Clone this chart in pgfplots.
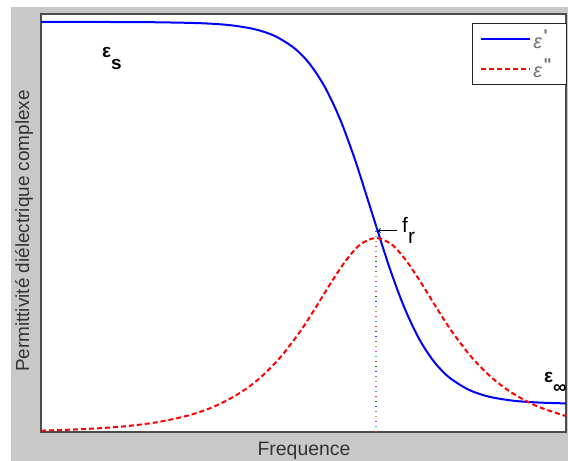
\documentclass[border=0pt]{standalone}
\usepackage{pgfplots}
\pgfplotsset{compat=1.18}
\usepackage{fontspec}
\setmainfont{Liberation Sans}
\newfontfamily\lsans{Liberation Sans}
\definecolor{figgray}{RGB}{200,200,200}
\definecolor{mblue}{RGB}{0,0,255}
\definecolor{mred}{RGB}{255,0,0}
\newcommand{\legsup}[1]{\raisebox{7bp}{\fontsize{17}{17}\selectfont\bfseries\kern1.5bp #1}}
\begin{document}
\begin{tikzpicture}[x=1bp,y=1bp]
\useasboundingbox (0,0) rectangle (568,461);
\fill[figgray] (11,0) rectangle (568,454);
\begin{axis}[
  at={(41bp,29bp)}, anchor=south west,
  width=525bp, height=418bp, scale only axis,
  xmin=41, xmax=566, ymin=0, ymax=418,
  axis background/.style={fill=white},
  axis line style={black!70, line width=1.5bp},
  xtick=\empty, ytick=\empty,
  legend style={at={(axis cs:567,409)}, anchor=north east, draw=black!85,
    line width=0.9bp, fill=white, inner xsep=8bp, inner ysep=4bp,
    row sep=5bp, font=\lsans\fontsize{20}{20}\selectfont, text=black!55,
    cells={anchor=west}},
  legend image code/.code={\draw[#1] (0bp,0bp) -- (49bp,0bp);},
]
\addplot[mblue, line width=2bp, smooth] coordinates {
(41,410)(100,410)(150,409.8)(200,408.8)(230,406.8)(255,402.7)(275,395.9)(295,383.3)(310,367.7)(325,344.7)(340,312.9)(355,272.2)(372,219)(389,165.8)(404,125.2)(419,93.3)(434,70.3)(449,54.7)(469,42.1)(489,35.3)(514,31.2)(540,29.4)(566,28.6)};
\addlegendentry{{\itshape ε}\legsup{\char"0027}\kern5bp}
\addplot[mred, line width=2bp, dash pattern=on 5bp off 3bp, smooth] coordinates {
(41,1.4)(70,2.3)(100,3.8)(130,6.2)(160,10.3)(190,17)(215,25.8)(240,39.1)(260,54.1)(280,74.3)(300,100.3)(315,123.4)(330,147.7)(345,170.3)(360,187.3)(376,194)(392,187.3)(407,170.3)(422,147.7)(437,123.4)(452,100.3)(472,74.3)(492,54.1)(512,39.1)(537,25.8)(566,15.9)};
\addlegendentry{{\itshape ε}\legsup{\char"0022}\kern5bp}
\addplot[red!80, line width=1.2bp, dash pattern=on 1bp off 34bp, dash phase=0bp, forget plot] coordinates {(376,0)(376,206)};
\addplot[green!50!black, line width=1.2bp, dash pattern=on 1bp off 34bp, dash phase=5bp, forget plot] coordinates {(376,0)(376,206)};
\addplot[blue!80, line width=1.2bp, dash pattern=on 1bp off 34bp, dash phase=10bp, forget plot] coordinates {(376,0)(376,206)};
\addplot[gray, line width=1.2bp, dash pattern=on 1bp off 34bp, dash phase=15bp, forget plot] coordinates {(376,0)(376,206)};
\addplot[yellow!70!black, line width=1.2bp, dash pattern=on 1bp off 34bp, dash phase=20bp, forget plot] coordinates {(376,0)(376,206)};
\addplot[magenta!80, line width=1.2bp, dash pattern=on 1bp off 34bp, dash phase=25bp, forget plot] coordinates {(376,0)(376,206)};
\addplot[cyan!80, line width=1.2bp, dash pattern=on 1bp off 34bp, dash phase=30bp, forget plot] coordinates {(376,0)(376,206)};
\end{axis}
% annotations (image y -> 461 - y)
\draw[black, line width=0.9bp, ->] (397,230.5) -- (378,230.5);
\node[anchor=base west, inner sep=0pt, font=\fontsize{21}{21}\selectfont] at (402,228) {f\raisebox{-11bp}{r}};
\node[anchor=base west, inner sep=0pt, font=\bfseries\fontsize{19}{19}\selectfont] at (102,403) {ε\raisebox{-12bp}{s}};
\node[anchor=base west, inner sep=0pt, font=\bfseries\fontsize{19}{19}\selectfont] at (544,78) {ε\raisebox{-11bp}{∞}};
\node[anchor=base, inner sep=0pt, font=\fontsize{19.5}{19.5}\selectfont, text=black!80] at (304,5) {Frequence};
\node[anchor=base, rotate=90, inner sep=0pt, font=\fontsize{19}{19}\selectfont, text=black!80] at (29,230) {Permittivité diélectrique complexe};
\end{tikzpicture}
\end{document}
